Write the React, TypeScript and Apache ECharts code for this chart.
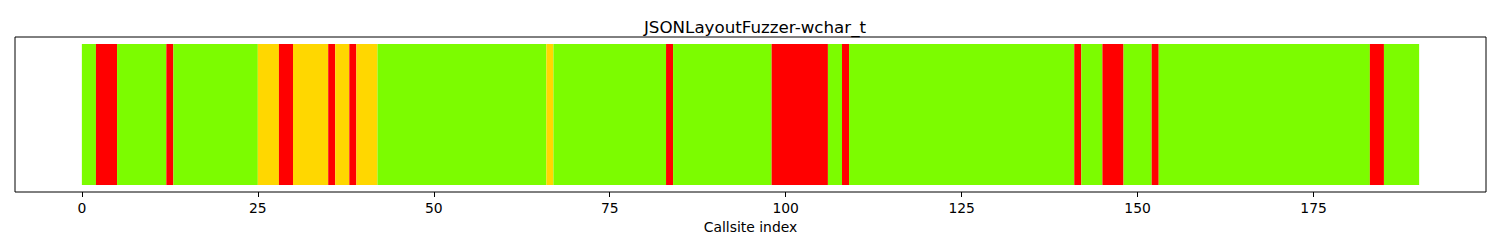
import React, { useEffect, useRef } from "react";
import * as echarts from "echarts";

const title = "JSONLayoutFuzzer-wchar_t";
const xName = "Callsite index";
const tickValues = [0, 25, 50, 75, 100, 125, 150, 175];
const statusColors = ["#7CFC00", "#FF0000", "#FFD700"]; // 0 covered, 1 uncovered, 2 partial

const segStart = [0, 2, 5, 12, 13, 25, 28, 30, 35, 36, 38, 39, 42, 66, 67, 83, 84, 98, 106, 108, 109, 141, 142, 145, 148, 152, 153, 183, 185];
const segEnd = [2, 5, 12, 13, 25, 28, 30, 35, 36, 38, 39, 42, 66, 67, 83, 84, 98, 106, 108, 109, 141, 142, 145, 148, 152, 153, 183, 185, 190];
const segStatus = [0, 1, 0, 1, 0, 2, 1, 2, 1, 2, 1, 2, 0, 2, 0, 1, 0, 1, 0, 1, 0, 1, 0, 1, 0, 1, 0, 1, 0];

const FONT = "DejaVu Sans";

export default function App() {
  const ref = useRef<HTMLDivElement>(null);
  useEffect(() => {
    if (!ref.current) return;
    const chart = echarts.init(ref.current, null, { renderer: "svg" });
    const data = segStart.map((s, i) => [s, segEnd[i], segStatus[i]]);
    chart.setOption({
      animation: false,
      backgroundColor: "#ffffff",
      title: {
        text: title,
        left: 750,
        textAlign: "center",
        top: 13,
        textStyle: { fontFamily: FONT, fontSize: 16.7, fontWeight: "normal", color: "#000" },
      },
      grid: {
        left: 15,
        right: 14,
        top: 37,
        bottom: 58,
        show: true,
        borderColor: "#000",
        borderWidth: 1,
        backgroundColor: "transparent",
      },
      xAxis: {
        type: "value",
        min: -9.5,
        max: 199.5,
        name: xName,
        nameLocation: "middle",
        nameGap: 28,
        nameTextStyle: { fontFamily: FONT, fontSize: 13.9, color: "#000", verticalAlign: "top" },
        axisLine: { show: false, onZero: false },
        axisTick: { show: true, length: 5, customValues: tickValues, lineStyle: { color: "#000", width: 1 } },
        axisLabel: { customValues: tickValues, margin: 9, fontFamily: FONT, fontSize: 13.9, color: "#000" },
        splitLine: { show: false },
      },
      yAxis: {
        type: "value",
        min: -0.05,
        max: 1.05,
        axisLine: { show: false },
        axisTick: { show: false },
        axisLabel: { show: false },
        splitLine: { show: false },
      },
      series: [
        {
          type: "custom",
          data,
          encode: { x: [0, 1], y: 2 },
          renderItem: (params: any, api: any) => {
            const s = api.value(0);
            const e = api.value(1);
            const st = api.value(2);
            const p0 = api.coord([s, 1]);
            const p1 = api.coord([e, 0]);
            return {
              type: "rect",
              shape: { x: p0[0], y: p0[1], width: p1[0] - p0[0], height: p1[1] - p0[1] },
              style: { fill: statusColors[st], stroke: null },
            };
          },
        },
      ],
    });
    return () => chart.dispose();
  }, []);
  return <div ref={ref} style={{ position: "absolute", left: 0, top: 0, width: 1500, height: 250 }} />;
}
